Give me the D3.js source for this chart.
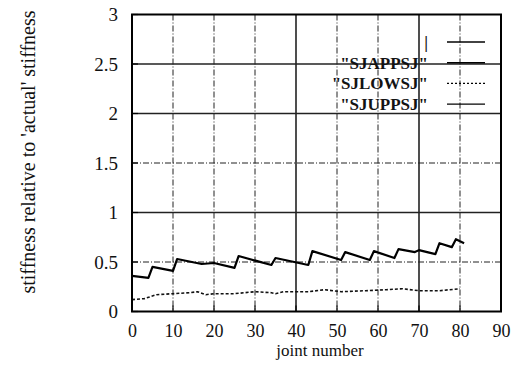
<!DOCTYPE html>
<meta charset="utf-8">
<style>
body { margin: 0; background: #fff; }
text { font-family: "Liberation Serif", "DejaVu Serif", serif; fill: #111; }
.grid line { stroke: #222; }
.frame { fill: none; stroke: #000; stroke-width: 2; }
</style>
<body>
<div id="chart"></div>
<script src="https://cdnjs.cloudflare.com/ajax/libs/d3/7.8.5/d3.min.js"></script>
<script>

// joint number vs stiffness, solid (upper) series
var upperX = [0, 4, 5, 10, 11, 17, 20, 25, 26, 34, 35, 43, 44, 51, 52, 58, 59, 64, 65, 69, 70, 74, 75, 78, 79, 81];
var upperY = [0.36, 0.34, 0.45, 0.41, 0.53, 0.48, 0.49, 0.44, 0.56, 0.47, 0.54, 0.47, 0.61, 0.52, 0.60, 0.52, 0.61, 0.54, 0.63, 0.60, 0.62, 0.58, 0.69, 0.65, 0.73, 0.69];

// dotted (lower) series
var lowerX = [0, 3, 6, 10, 14, 16, 18, 20, 25, 30, 34, 35, 37, 43, 47, 51, 57, 62, 66, 70, 75, 80];
var lowerY = [0.12, 0.13, 0.17, 0.18, 0.19, 0.20, 0.17, 0.18, 0.18, 0.20, 0.19, 0.18, 0.20, 0.20, 0.22, 0.20, 0.21, 0.22, 0.23, 0.21, 0.21, 0.23];

var legendLabels = ['|', '"SJAPPSJ"', '"SJLOWSJ"', '"SJUPPSJ"'];
var legendDash = [null, null, "2,2", null];

var xTicks = [0, 10, 20, 30, 40, 50, 60, 70, 80, 90];
var yTicks = [0, 0.5, 1, 1.5, 2, 2.5, 3];
var yTickLabels = ["0", "0.5", "1", "1.5", "2", "2.5", "3"];

// grid lines that come out solid in the original print
var xGridSolid = [40, 70];
var yGridSolid = [1, 2, 2.5];

var W = 516, H = 367;
var pLeft = 132, pRight = 501, pTop = 14.5, pBottom = 311.5;

var x = d3.scaleLinear().domain([0, 90]).range([pLeft, pRight]);
var y = d3.scaleLinear().domain([0, 3]).range([pBottom, pTop]);

var svg = d3.select("#chart").append("svg")
    .attr("width", W)
    .attr("height", H);

svg.append("rect").attr("width", W).attr("height", H).attr("fill", "#fff");

// grid
var grid = svg.append("g").attr("class", "grid");
grid.selectAll(".gx")
    .data(xTicks.slice(1, -1))
  .enter().append("line")
    .attr("x1", function(d) { return x(d); })
    .attr("x2", function(d) { return x(d); })
    .attr("y1", pTop).attr("y2", pBottom)
    .attr("stroke-width", function(d) { return xGridSolid.indexOf(d) >= 0 ? 1.6 : 1; })
    .attr("stroke-dasharray", function(d) { return xGridSolid.indexOf(d) >= 0 ? null : "6,2,1,2"; });

grid.selectAll(".gy")
    .data(yTicks.slice(1, -1))
  .enter().append("line")
    .attr("x1", pLeft).attr("x2", pRight)
    .attr("y1", function(d) { return y(d); })
    .attr("y2", function(d) { return y(d); })
    .attr("stroke-width", function(d) { return yGridSolid.indexOf(d) >= 0 ? 1.6 : 1; })
    .attr("stroke-dasharray", function(d) { return yGridSolid.indexOf(d) >= 0 ? null : "6,2,1,2"; });

// axes
var yAxis = d3.axisLeft(y).tickValues(yTicks).tickSize(0).tickPadding(14)
    .tickFormat(function(d, i) { return yTickLabels[i]; });
var xAxis = d3.axisBottom(x).tickValues(xTicks).tickSize(0).tickPadding(12.5)
    .tickFormat(d3.format("d"));

svg.append("g")
    .attr("transform", "translate(" + pLeft + ",0)")
    .call(yAxis)
    .call(function(g) { g.select(".domain").remove(); })
    .selectAll("text")
    .style("font-size", "19px")
    .style("font-family", "Liberation Serif")
    .style("fill", "#111");

svg.append("g")
    .attr("transform", "translate(0," + pBottom + ")")
    .call(xAxis)
    .call(function(g) { g.select(".domain").remove(); })
    .selectAll("text")
    .style("font-size", "18px")
    .style("font-family", "Liberation Serif")
    .style("fill", "#111");

// inward tick marks
var ticks = svg.append("g").attr("stroke", "#000").attr("stroke-width", 1.2);
ticks.selectAll(".tb").data(xTicks).enter().append("line")
    .attr("x1", function(d) { return x(d); }).attr("x2", function(d) { return x(d); })
    .attr("y1", pBottom).attr("y2", pBottom - 6);
ticks.selectAll(".tl").data(yTicks).enter().append("line")
    .attr("x1", pLeft).attr("x2", pLeft + 6)
    .attr("y1", function(d) { return y(d); }).attr("y2", function(d) { return y(d); });

// data lines
var line = d3.line()
    .x(function(d) { return x(d[0]); })
    .y(function(d) { return y(d[1]); });

svg.append("path")
    .attr("d", line(d3.zip(lowerX, lowerY)))
    .attr("fill", "none")
    .attr("stroke", "#111")
    .attr("stroke-width", 1.6)
    .attr("stroke-dasharray", "3,2");

svg.append("path")
    .attr("d", line(d3.zip(upperX, upperY)))
    .attr("fill", "none")
    .attr("stroke", "#000")
    .attr("stroke-width", 2.2)
    .attr("stroke-linejoin", "round");

// frame
svg.append("rect")
    .attr("class", "frame")
    .attr("x", pLeft).attr("y", pTop)
    .attr("width", pRight - pLeft).attr("height", pBottom - pTop);

// legend
var legend = svg.append("g").style("opacity", 0.99);
legendLabels.forEach(function(lab, i) {
  var ly = 42 + i * 20.7;
  legend.append("text")
      .attr("x", 428).attr("y", ly)
      .attr("dy", "0.35em")
      .attr("text-anchor", "end")
      .style("font-size", "17px")
      .style("font-weight", "bold")
      .style("fill", "#111")
      .text(lab);
  legend.append("line")
      .attr("x1", 447).attr("x2", 485)
      .attr("y1", ly).attr("y2", ly)
      .attr("stroke", "#000")
      .attr("stroke-width", 1.4)
      .attr("stroke-dasharray", legendDash[i]);
});

// axis titles
svg.append("text")
    .attr("x", 320).attr("y", 356)
    .attr("text-anchor", "middle")
    .style("font-size", "17px")
    .text("joint number");

svg.append("text")
    .attr("transform", "translate(28,152) rotate(-90)")
    .attr("dy", "0.35em")
    .attr("text-anchor", "middle")
    .style("font-size", "20px")
    .text("stiffness relative to 'actual' stiffness");

</script>
</body>
